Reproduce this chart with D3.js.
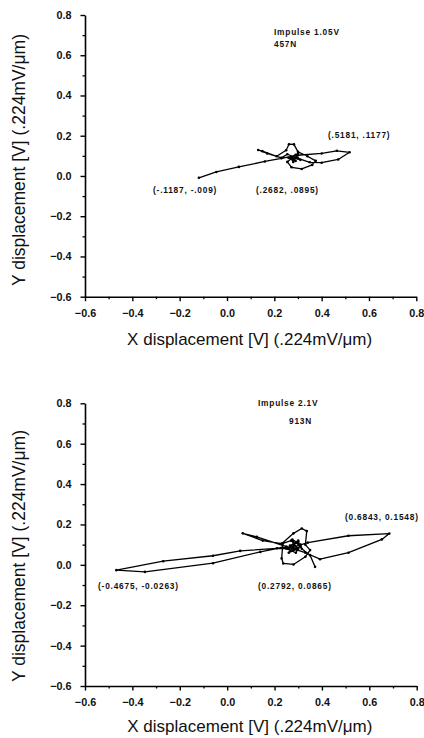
<!DOCTYPE html>
<html><head><meta charset="utf-8">
<script src="https://cdn.jsdelivr.net/npm/d3@7"></script>
<style>body{margin:0;background:#fff}</style>
</head><body><svg id="c" width="424" height="738"></svg>
<script>
const tickValues = [-0.6, -0.4, -0.2, 0.0, 0.2, 0.4, 0.6, 0.8];
const minorTickValues = [-0.5, -0.3, -0.1, 0.1, 0.3, 0.5, 0.7];
const xTitle = "X displacement [V] (.224mV/\u03bcm)";
const yTitle = "Y displacement [V] (.224mV/\u03bcm)";

const impulse1X = [-0.1187, -0.045, 0.05, 0.16, 0.23, 0.30, 0.40, 0.464, 0.5181, 0.47, 0.40, 0.35, 0.30, 0.255, 0.23, 0.17, 0.132, 0.15, 0.21, 0.25, 0.262, 0.283, 0.30, 0.34, 0.375, 0.36, 0.316, 0.273, 0.255, 0.29, 0.31, 0.27, 0.29, 0.26, 0.30, 0.28, 0.2682];
const impulse1Y = [-0.009, 0.020, 0.045, 0.072, 0.088, 0.103, 0.112, 0.125, 0.1177, 0.082, 0.066, 0.068, 0.088, 0.108, 0.09, 0.112, 0.129, 0.123, 0.098, 0.128, 0.158, 0.157, 0.12, 0.098, 0.075, 0.055, 0.035, 0.043, 0.07, 0.105, 0.08, 0.095, 0.075, 0.09, 0.11, 0.07, 0.0895];
const impulse1Title = ["Impulse 1.05V", "457N"];
const impulse1Notes = ["(.5181, .1177)", "(-.1187, -.009)", "(.2682, .0895)"];

const impulse2X = [0.2792, 0.23, 0.14, -0.06, -0.347, -0.4675, -0.27, -0.06, 0.055, 0.21, 0.26, 0.34, 0.512, 0.6843, 0.653, 0.512, 0.392, 0.33, 0.25, 0.125, 0.066, 0.15, 0.23, 0.28, 0.315, 0.336, 0.33, 0.35, 0.33, 0.28, 0.237, 0.23, 0.235, 0.27, 0.30, 0.26, 0.29, 0.31, 0.27, 0.28, 0.30, 0.25, 0.29, 0.31, 0.275, 0.295, 0.265, 0.30, 0.315, 0.35, 0.371];
const impulse2Y = [0.0865, 0.085, 0.064, 0.008, -0.035, -0.0263, 0.018, 0.045, 0.069, 0.082, 0.08, 0.11, 0.144, 0.1548, 0.126, 0.06, 0.028, 0.06, 0.09, 0.139, 0.156, 0.12, 0.105, 0.156, 0.18, 0.167, 0.10, 0.073, 0.04, 0.002, 0.007, 0.032, 0.106, 0.12, 0.08, 0.06, 0.11, 0.09, 0.07, 0.10, 0.12, 0.08, 0.06, 0.10, 0.125, 0.075, 0.095, 0.115, 0.08, 0.048, -0.01];
const impulse2Title = ["Impulse 2.1V", "913N"];
const impulse2Notes = ["(0.6843, 0.1548)", "(-0.4675, -0.0263)", "(0.2792, 0.0865)"];

const FONT = "'Liberation Sans', Arial, Helvetica, sans-serif";
const svg = d3.select("#c");

function panel(cfg) {
  const x = d3.scaleLinear().domain([-0.6, 0.8]).range([cfg.left, cfg.right]);
  const y = d3.scaleLinear().domain([-0.6, 0.8]).range([cfg.bottom, cfg.top]);
  const g = svg.append("g");

  g.append("g").attr("transform", `translate(0,${cfg.bottom})`)
    .call(d3.axisBottom(x).tickValues(minorTickValues).tickSize(2.5).tickFormat(""))
    .call(a => a.select(".domain").remove())
    .call(a => a.selectAll("line").attr("stroke-width", 1.3));
  g.append("g").attr("transform", `translate(${cfg.left},0)`)
    .call(d3.axisLeft(y).tickValues(minorTickValues).tickSize(2.5).tickFormat(""))
    .call(a => a.select(".domain").remove())
    .call(a => a.selectAll("line").attr("stroke-width", 1.3));

  const fmt = d3.format(".1f");
  const xa = g.append("g").attr("transform", `translate(0,${cfg.bottom})`)
    .call(d3.axisBottom(x).tickValues(tickValues).tickSize(4.5).tickSizeOuter(0).tickPadding(8).tickFormat(fmt));
  const ya = g.append("g").attr("transform", `translate(${cfg.left},0)`)
    .call(d3.axisLeft(y).tickValues(tickValues).tickSize(4.5).tickSizeOuter(0).tickPadding(9).tickFormat(fmt));
  [xa, ya].forEach(a => {
    a.select(".domain").attr("stroke-width", 1.6);
    a.selectAll("line").attr("stroke-width", 1.4);
    a.selectAll("text").attr("font-family", FONT).attr("font-size", 10.8).attr("font-weight", "bold").attr("fill", "#111");
  });

  g.append("text").attr("x", (cfg.left + cfg.right) / 2 - 1).attr("y", cfg.xTitleY)
    .attr("text-anchor", "middle").attr("font-family", FONT).attr("font-size", 17).attr("fill", "#111").text(xTitle);
  g.append("text").attr("transform", `translate(${cfg.yTitleX},${cfg.yTitleC}) rotate(-90)`)
    .attr("text-anchor", "middle").attr("font-family", FONT).attr("font-size", 17.5).attr("fill", "#111").text(yTitle);

  const pts = cfg.xs.map((v, i) => [v, cfg.ys[i]]);
  const line = d3.line().x(d => x(d[0])).y(d => y(d[1]));
  g.append("path").datum(pts).attr("d", line).attr("fill", "none")
    .attr("stroke", "#000").attr("stroke-width", 1.3).attr("stroke-linejoin", "round");
  g.selectAll("circle.pt").data(pts).join("circle").attr("class", "pt")
    .attr("cx", d => x(d[0])).attr("cy", d => y(d[1])).attr("r", 1.3).attr("fill", "#000");

  const small = sel => sel.attr("font-family", FONT).attr("font-size", 8.3).attr("font-weight", "bold")
    .attr("letter-spacing", 0.8).attr("fill", "#111");
  cfg.title.forEach((t, i) => {
    g.append("text").attr("x", cfg.titlePos[i][0]).attr("y", cfg.titlePos[i][1]).text(t).call(small);
  });
  cfg.notes.forEach((t, i) => {
    g.append("text").attr("x", cfg.notePos[i][0]).attr("y", cfg.notePos[i][1]).text(t).call(small);
  });
}

panel({
  left: 85, right: 416.3, top: 15, bottom: 296.7,
  xTitleY: 345, yTitleX: 25, yTitleC: 160,
  xs: impulse1X, ys: impulse1Y,
  title: impulse1Title, titlePos: [[274, 35], [274, 47]],
  notes: impulse1Notes, notePos: [[328, 138], [153, 193], [256, 193]]
});
panel({
  left: 85, right: 416.7, top: 403.3, bottom: 686,
  xTitleY: 732, yTitleX: 25, yTitleC: 556,
  xs: impulse2X, ys: impulse2Y,
  title: impulse2Title, titlePos: [[258, 406], [289, 424]],
  notes: impulse2Notes, notePos: [[345, 519.5], [98, 589], [258, 589]]
});
</script></body></html>
